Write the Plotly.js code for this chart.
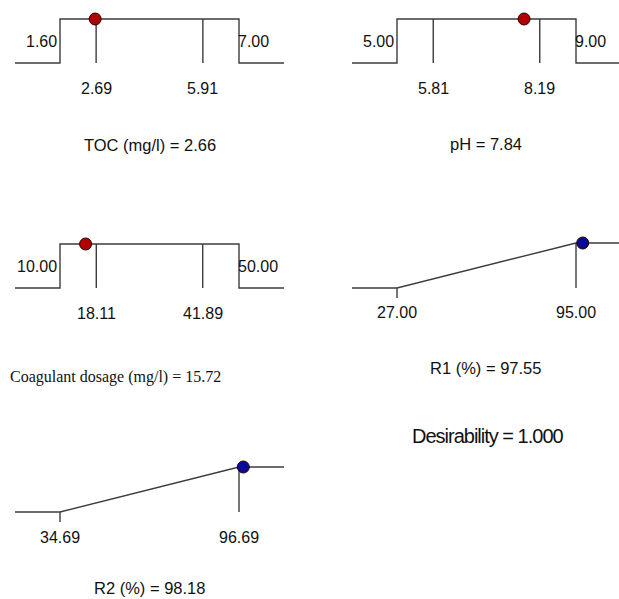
<!DOCTYPE html>
<html>
<head>
<meta charset="utf-8">
<script src="https://cdn.plot.ly/plotly-3.0.1.min.js"></script>
<style>
  html, body { margin: 0; padding: 0; background: #ffffff; }
  #chart { width: 619px; height: 599px; }
</style>
</head>
<body>
<div id="chart"></div>
<script>
// Factors: "in range" goals, with the two inner reference levels of each factor
const factorNames = ['TOC (mg/l)', 'pH', 'Coagulant dosage (mg/l)'];
const factorLow = [1.60, 5.00, 10.00];
const factorHigh = [7.00, 9.00, 50.00];
const factorInnerLow = [2.69, 5.81, 18.11];
const factorInnerHigh = [5.91, 8.19, 41.89];
const factorSolution = [2.66, 7.84, 15.72];

// Responses: "maximize" goals
const responseNames = ['R1 (%)', 'R2 (%)'];
const responseLow = [27.00, 34.69];
const responseHigh = [95.00, 96.69];
const responseSolution = [97.55, 98.18];

const overallDesirability = 1.000;

// Panel placement in pixels: ramp left/right ends, top (d = 1) and baseline (d = 0)
const W = 619, H = 599;
const panels = [
  { kind: 'factor', i: 0, left: 60, right: 239, top: 19, base: 63, titleY: 145 },
  { kind: 'factor', i: 1, left: 397, right: 576, top: 19, base: 63, titleY: 144 },
  { kind: 'factor', i: 2, left: 60, right: 239, top: 244, base: 288, titleY: 377, serif: true, titleShift: -34 },
  { kind: 'response', i: 0, left: 397, right: 576, top: 243, base: 288, titleY: 368 },
  { kind: 'response', i: 1, left: 60, right: 239, top: 467, base: 512, titleY: 588 }
];

const EXT = 45;          // length of the flat tails beyond the limits, px
const PAD = 0.35;        // extra vertical room above/below the ramp, in desirability units
const lineColor = '#3c3c3c';
const lineWidth = 1.4;
const sans = 'Liberation Sans, Arial, sans-serif';
const serif = 'Liberation Serif, Times New Roman, serif';
const textColor = '#111111';

const traces = [];
const annotations = [];
const layout = {
  width: W, height: H,
  margin: { l: 0, r: 0, t: 0, b: 0 },
  paper_bgcolor: '#ffffff',
  plot_bgcolor: 'rgba(0,0,0,0)',
  showlegend: false,
  annotations: annotations
};

function clamp01(v) { return Math.max(0, Math.min(1, v)); }

panels.forEach((p, k) => {
  const n = k + 1;
  const xa = 'x' + (n === 1 ? '' : n), ya = 'y' + (n === 1 ? '' : n);
  const isF = p.kind === 'factor';
  const lo = isF ? factorLow[p.i] : responseLow[p.i];
  const hi = isF ? factorHigh[p.i] : responseHigh[p.i];
  const sol = isF ? factorSolution[p.i] : responseSolution[p.i];
  const name = isF ? factorNames[p.i] : responseNames[p.i];
  const ext = (hi - lo) * EXT / (p.right - p.left);
  const h = p.base - p.top;

  layout['xaxis' + (n === 1 ? '' : n)] = {
    domain: [(p.left - EXT) / W, Math.min(1, (p.right + EXT) / W)],
    range: [lo - ext, lo - ext + (hi - lo + 2 * ext) * (Math.min(W, p.right + EXT) - (p.left - EXT)) / (p.right - p.left + 2 * EXT)],
    visible: false, fixedrange: true
  };
  layout['yaxis' + (n === 1 ? '' : n)] = {
    domain: [1 - (p.base + PAD * h) / H, 1 - (p.top - PAD * h) / H],
    range: [-PAD, 1 + PAD],
    visible: false, fixedrange: true
  };

  const line = { color: lineColor, width: lineWidth };
  let d;
  if (isF) {
    // step: zero outside the range, one inside
    traces.push({ x: [lo - ext, lo, lo, hi, hi, hi + ext], y: [0, 0, 1, 1, 0, 0],
      mode: 'lines', line: line, xaxis: xa, yaxis: ya, hoverinfo: 'skip' });
    traces.push({ x: [factorInnerLow[p.i], factorInnerLow[p.i], null, factorInnerHigh[p.i], factorInnerHigh[p.i]],
      y: [0, 1, null, 0, 1], mode: 'lines', line: line, xaxis: xa, yaxis: ya, hoverinfo: 'skip' });
    d = (sol >= lo && sol <= hi) ? 1 : 0;
  } else {
    // linear ramp from low to high
    traces.push({ x: [lo - ext, lo, hi, hi + ext], y: [0, 0, 1, 1],
      mode: 'lines', line: line, xaxis: xa, yaxis: ya, hoverinfo: 'skip' });
    traces.push({ x: [lo, lo, null, hi, hi], y: [0, -10 / h, null, 1, 0],
      mode: 'lines', line: line, xaxis: xa, yaxis: ya, hoverinfo: 'skip' });
    d = clamp01((sol - lo) / (hi - lo));
  }
  traces.push({ x: [sol], y: [d], mode: 'markers', cliponaxis: false,
    marker: { size: 12, color: isF ? '#b00000' : '#0a0a9a', line: { color: '#2a0000', width: 1 } },
    xaxis: xa, yaxis: ya, hoverinfo: 'skip' });

  const lab = { family: sans, size: 16, color: textColor };
  if (isF) {
    annotations.push({ xref: xa, yref: ya, x: lo, y: 0.5, text: lo.toFixed(2), showarrow: false,
      xanchor: 'right', xshift: -1, font: lab });
    annotations.push({ xref: xa, yref: ya, x: hi, y: 0.5, text: hi.toFixed(2), showarrow: false,
      xanchor: 'left', xshift: -3, font: lab });
    [factorInnerLow[p.i], factorInnerHigh[p.i]].forEach(v => {
      annotations.push({ xref: xa, yref: ya, x: v, y: 0, text: v.toFixed(2), showarrow: false,
        xanchor: 'center', yanchor: 'middle', yshift: -25, font: lab });
    });
  } else {
    [lo, hi].forEach(v => {
      annotations.push({ xref: xa, yref: ya, x: v, y: 0, text: v.toFixed(2), showarrow: false,
        xanchor: 'center', yanchor: 'middle', yshift: -25, font: lab });
    });
  }
  annotations.push({ xref: xa + ' domain', yref: 'paper', x: 0.5, y: 1 - p.titleY / H,
    xshift: p.titleShift || 0, xanchor: 'center',
    text: name + ' = ' + sol.toFixed(2), showarrow: false, yanchor: 'middle',
    font: p.serif ? { family: serif, size: 16, color: '#111111' } : { family: sans, size: 16.5, color: textColor } });
});

annotations.push({ xref: 'paper', yref: 'paper', x: 487 / W, y: 1 - 436 / H, xanchor: 'center',
  text: 'Desirability = ' + overallDesirability.toFixed(3),
  showarrow: false, yanchor: 'middle',
  font: { family: sans, size: 20, color: '#111111' } });

Plotly.newPlot('chart', traces, layout, { staticPlot: true, displayModeBar: false }).then(gd => {
  // the overall desirability caption is set with tight letter spacing
  const caps = gd.querySelectorAll('.annotation-text');
  const last = caps[caps.length - 1];
  if (last) last.style.letterSpacing = '-1px';
});
</script>
</body>
</html>
